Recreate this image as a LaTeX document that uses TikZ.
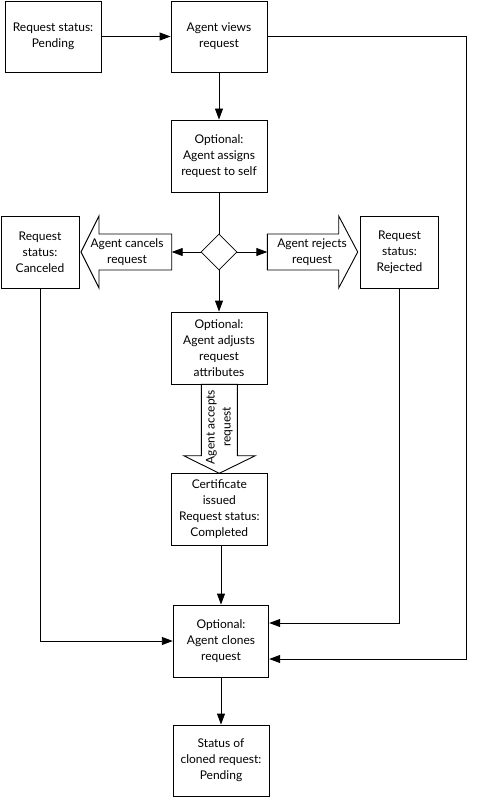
\documentclass[tikz,border=0pt]{standalone}
\usepackage{fontspec}
\setmainfont{Lato}
\usetikzlibrary{shapes.geometric,arrows.meta}
\begin{document}
\begin{tikzpicture}[x=1pt,y=-1pt,
  every node/.style={font=\fontsize{12}{16}\selectfont},
  box/.style={draw,line width=0.9pt,align=center,inner sep=1pt,minimum width=96pt,minimum height=72pt},
  sbox/.style={box,minimum width=78pt},
  lbl/.style={align=center,inner sep=0pt},
  blk/.style={draw,line width=0.9pt,fill=white,line join=miter},
  conn/.style={line width=0.9pt},
  arr/.style={conn,-{Triangle[length=11pt,width=8pt]}}]
\useasboundingbox (0,0) rectangle (499,797);
% boxes
\node[box,minimum height=71pt] (pend) at (53,36.5) {Request status:\\Pending};
\node[box,minimum height=71pt] (views) at (219,36.5) {Agent views\\request};
\node[box] (assign) at (219,156) {Optional:\\Agent assigns\\request to self};
\node[draw,diamond,line width=0.7pt,minimum width=36pt,minimum height=36pt,inner sep=0pt] (dec) at (219,252) {};
\node[sbox] (canc) at (40,252) {Request\\status:\\Canceled};
\node[sbox,minimum width=78.5pt] (rej) at (399.5,252) {Request\\status:\\Rejected};
\node[box] (adj) at (219,348) {Optional:\\Agent adjusts\\request\\attributes};
\node[box] (cert) at (219.3,509.3) {Certificate\\issued\\Request status:\\Completed};
\node[box,minimum width=95.5pt] (clone) at (221,641) {Optional:\\Agent clones\\request};
\node[box,minimum height=71pt] (final) at (221,760.5) {Status of\\cloned request:\\Pending};
% block arrows
\draw[blk] (171.7,234) -- (99,234) -- (99,216) -- (81,252) -- (99,288) -- (99,270) -- (171.7,270) -- cycle;
\node[lbl] (cancl) at (127,252) {Agent cancels\\request};
\coordinate (cancin) at (171.7,252);
\draw[blk] (267.3,234) -- (338.7,234) -- (338.7,216) -- (357.7,252) -- (338.7,288) -- (338.7,270) -- (267.3,270) -- cycle;
\node[lbl] (rejl) at (312,252) {Agent rejects\\request};
\coordinate (rejin) at (267.3,252);
\draw[blk] (201.3,384.3) -- (201.3,455.7) -- (183.7,455.7) -- (219.3,473.3) -- (255.3,455.7) -- (237.3,455.7) -- (237.3,384.3) -- cycle;
\node[lbl,rotate=90] (accl) at (219.3,427) {Agent accepts\\request};
% connectors
\coordinate (rt) at (466,659);
\draw[arr] (pend) -- (views);
\draw[arr] (views) -- (assign);
\draw[conn] (assign) -- (dec);
\draw[arr] (dec.west) -- (cancin);
\draw[arr] (dec.east) -- (rejin);
\draw[arr] (dec.south) -- (adj);
\draw[arr] (clone.north |- cert.south) -- (clone.north);
\draw[arr] (canc.south) |- (clone.west);
\draw[arr] (rej.south) |- ([yshift=18pt]clone.east);
\draw[arr] (views.east) -| (rt) -- ([yshift=-18pt]clone.east);
\draw[arr] (clone) -- (final);
\end{tikzpicture}
\end{document}
